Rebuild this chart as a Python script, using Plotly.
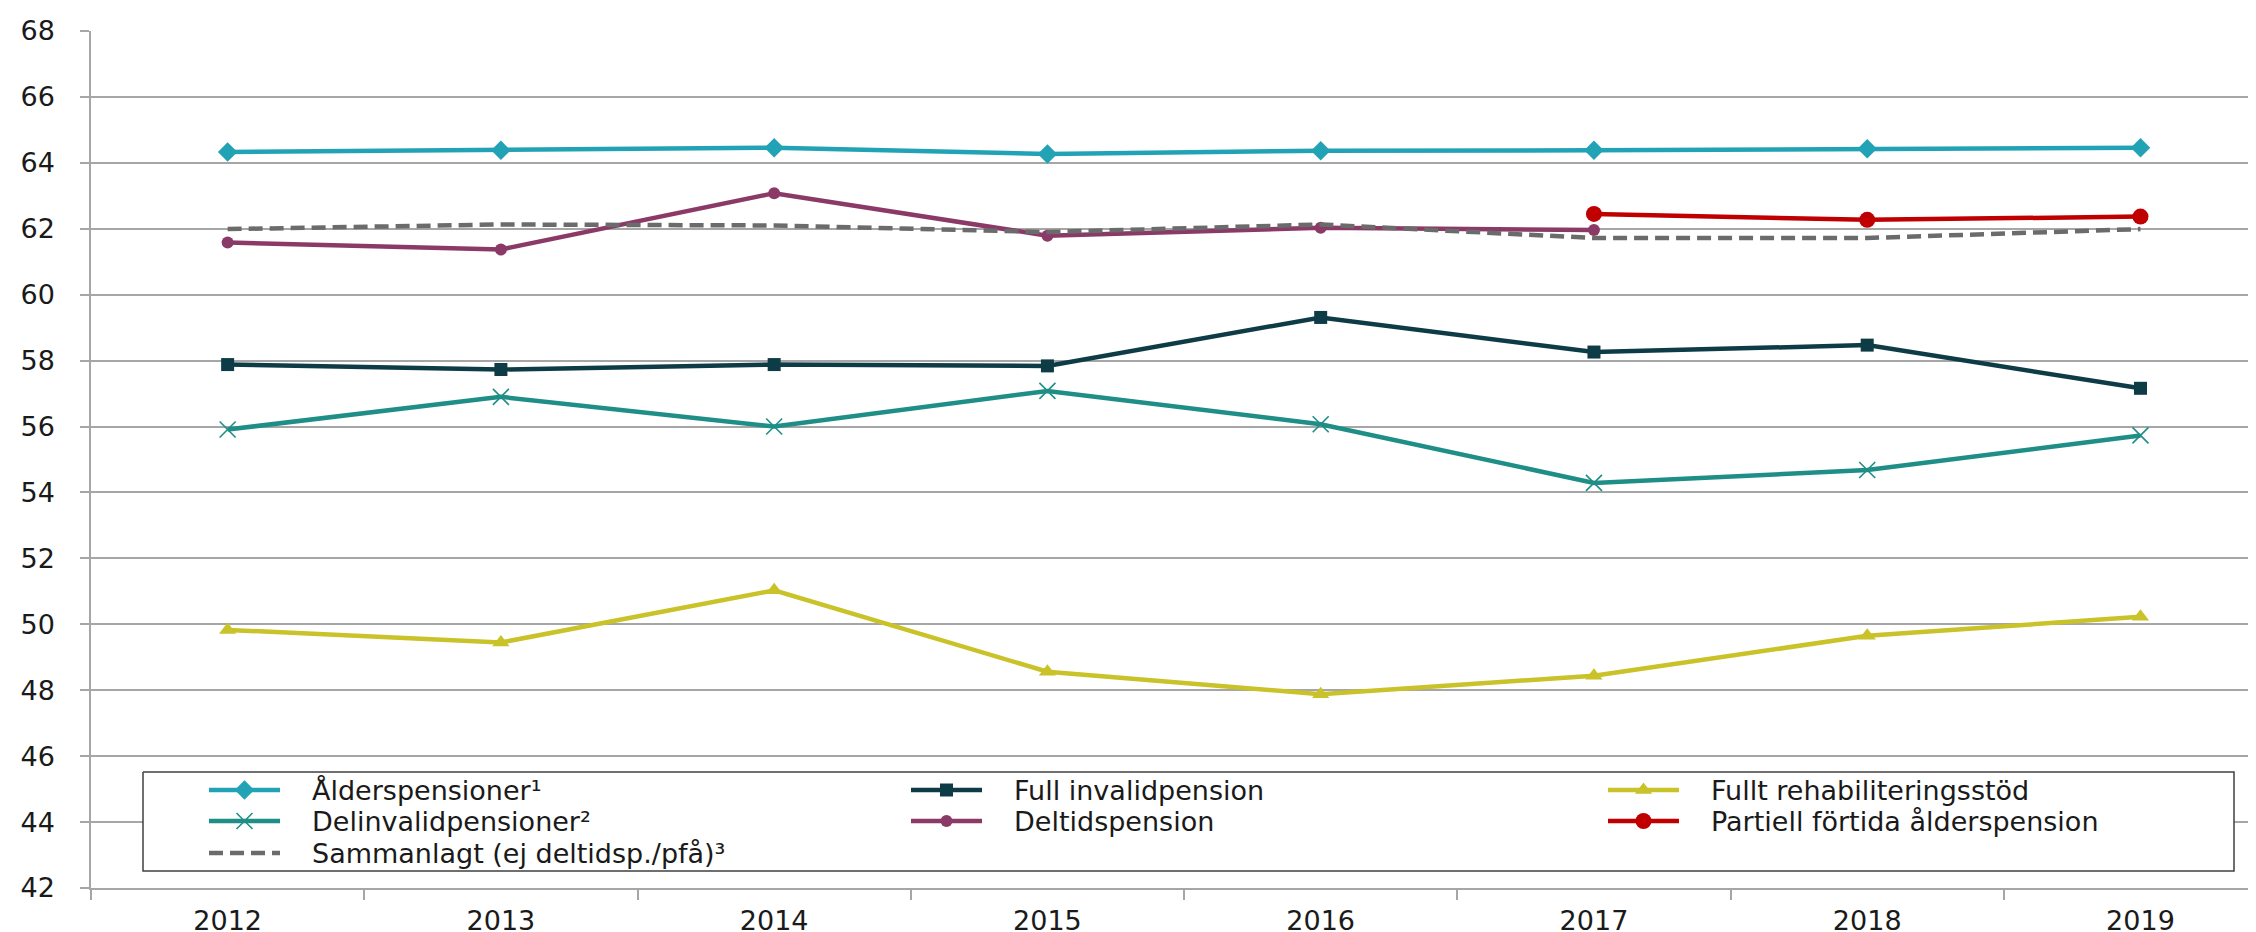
import plotly.graph_objects as go

# ---------------- data ----------------
years = ["2012", "2013", "2014", "2015", "2016", "2017", "2018", "2019"]

alderspensioner = [64.33, 64.38, 64.46, 64.27, 64.37, 64.38, 64.43, 64.46]
full_invalidpension = [57.88, 57.73, 57.88, 57.84, 59.31, 58.26, 58.47, 57.16]
fullt_rehab = [49.83, 49.45, 51.03, 48.56, 47.88, 48.44, 49.65, 50.23]
delinvalidpensioner = [55.91, 56.90, 56.00, 57.08, 56.07, 54.29, 54.68, 55.73]
deltidspension = [61.58, 61.37, 63.08, 61.79, 62.03, 61.96, None, None]
partiell_fortida = [None, None, None, None, None, 62.45, 62.27, 62.37]
sammanlagt = [61.99, 62.13, 62.10, 61.90, 62.13, 61.72, 61.72, 61.99]

y_ticks = list(range(42, 69, 2))

names = {
    "alder": "Ålderspensioner¹",
    "fullinv": "Full invalidpension",
    "rehab": "Fullt rehabiliteringsstöd",
    "delinv": "Delinvalidpensioner²",
    "deltid": "Deltidspension",
    "partiell": "Partiell förtida ålderspension",
    "samman": "Sammanlagt (ej deltidsp./pfå)³",
}

# ---------------- styles ----------------
FONT = "DejaVu Sans"
FS = 27
W, H = 2256, 932
ML, MR, MT, MB = 83, 0, 23, 52
GRID = "#a6a6a6"
TXT = "#1a1a1a"

styles = {
    "alder": dict(color="#22a3b5", symbol="diamond", size=15, lw=4.5, dash="solid"),
    "delinv": dict(color="#1f8e87", symbol="x-thin-open", size=16, lw=4.5, dash="solid"),
    "fullinv": dict(color="#0e3c46", symbol="square", size=13, lw=4.5, dash="solid"),
    "deltid": dict(color="#8b3a67", symbol="circle", size=12, lw=4.5, dash="solid"),
    "rehab": dict(color="#c9c229", symbol="triangle-up", size=15, lw=4.5, dash="solid"),
    "partiell": dict(color="#c00000", symbol="circle", size=16, lw=4.5, dash="solid"),
    "samman": dict(color="#6b6b6b", symbol=None, size=0, lw=4.5, dash="14px,7px"),
}

series = {
    "alder": alderspensioner,
    "delinv": delinvalidpensioner,
    "fullinv": full_invalidpension,
    "deltid": deltidspension,
    "rehab": fullt_rehab,
    "partiell": partiell_fortida,
    "samman": sammanlagt,
}

fig = go.Figure()


def marker_for(st):
    if st["symbol"] is None:
        return None
    if st["symbol"].endswith("-open"):
        return dict(symbol=st["symbol"], size=st["size"], color=st["color"],
                    line=dict(color=st["color"], width=1.6))
    return dict(symbol=st["symbol"], size=st["size"], color=st["color"],
                line=dict(width=0))


for key, vals in series.items():
    st = styles[key]
    mode = "lines" if st["symbol"] is None else "lines+markers"
    fig.add_trace(go.Scatter(
        x=years, y=vals, name=names[key], mode=mode,
        line=dict(color=st["color"], width=st["lw"], dash=st["dash"]),
        marker=marker_for(st), connectgaps=False, showlegend=False,
    ))

# ---------------- custom legend (pixel frame overlay) ----------------
LEG_BOX = (135, 764, 2226, 863)
LEG_COLS = [201, 903, 1600]
LEG_ROWS = [782, 813, 845]
LEG_LINE = 71
LEG_TEXT_OFF = 101
legend_layout = [
    ("alder", 0, 0), ("fullinv", 1, 0), ("rehab", 2, 0),
    ("delinv", 0, 1), ("deltid", 1, 1), ("partiell", 2, 1),
    ("samman", 0, 2),
]

bx0, by0, bx1, by1 = LEG_BOX
fig.add_trace(go.Scatter(
    x=[bx0, bx1, bx1, bx0, bx0], y=[by0, by0, by1, by1, by0],
    xaxis="x2", yaxis="y2", mode="lines", fill="toself", fillcolor="white",
    line=dict(color="#404040", width=1.5), showlegend=False, hoverinfo="skip",
))

for key, c, r in legend_layout:
    st = styles[key]
    x0 = LEG_COLS[c]
    yy = LEG_ROWS[r]
    fig.add_trace(go.Scatter(
        x=[x0, x0 + LEG_LINE], y=[yy, yy], xaxis="x2", yaxis="y2",
        mode="lines", line=dict(color=st["color"], width=st["lw"], dash=st["dash"]),
        showlegend=False, hoverinfo="skip",
    ))
    if st["symbol"] is not None:
        fig.add_trace(go.Scatter(
            x=[x0 + LEG_LINE / 2], y=[yy], xaxis="x2", yaxis="y2",
            mode="markers", marker=marker_for(st),
            showlegend=False, hoverinfo="skip",
        ))
    fig.add_annotation(
        x=x0 + LEG_TEXT_OFF, y=yy, xref="x2", yref="y2",
        text=names[key], showarrow=False, xanchor="left", yanchor="middle",
        font=dict(family=FONT, size=FS, color=TXT),
    )

# ---------------- layout ----------------
fig.update_layout(
    width=W, height=H,
    margin=dict(l=ML, r=MR, t=MT, b=MB, pad=0),
    paper_bgcolor="white", plot_bgcolor="white",
    font=dict(family=FONT, size=FS, color=TXT),
    showlegend=False,
    xaxis=dict(
        type="category", categoryorder="array", categoryarray=years,
        range=[-0.5, 7.452], tickson="boundaries",
        ticks="outside", ticklen=10, tickwidth=1.5, tickcolor=GRID,
        showgrid=False, showline=True, linecolor=GRID, linewidth=1.5,
        zeroline=False, tickfont=dict(family=FONT, size=FS, color=TXT),
        ticklabelstandoff=8,
    ),
    yaxis=dict(
        range=[42, 68], tickvals=y_ticks, ticks="outside", ticklen=9,
        tickwidth=1.5, tickcolor=GRID,
        showgrid=True, gridcolor=GRID, gridwidth=1.5,
        showline=True, linecolor=GRID, linewidth=1.5, zeroline=False,
        tickfont=dict(family=FONT, size=FS, color=TXT),
        ticklabelstandoff=20,
    ),
    xaxis2=dict(overlaying="x", range=[ML, W - MR], visible=False,
                showgrid=False, zeroline=False, fixedrange=True),
    yaxis2=dict(overlaying="y", range=[H - MB, MT], visible=False,
                showgrid=False, zeroline=False, fixedrange=True),
)

fig.write_html("out.html")
